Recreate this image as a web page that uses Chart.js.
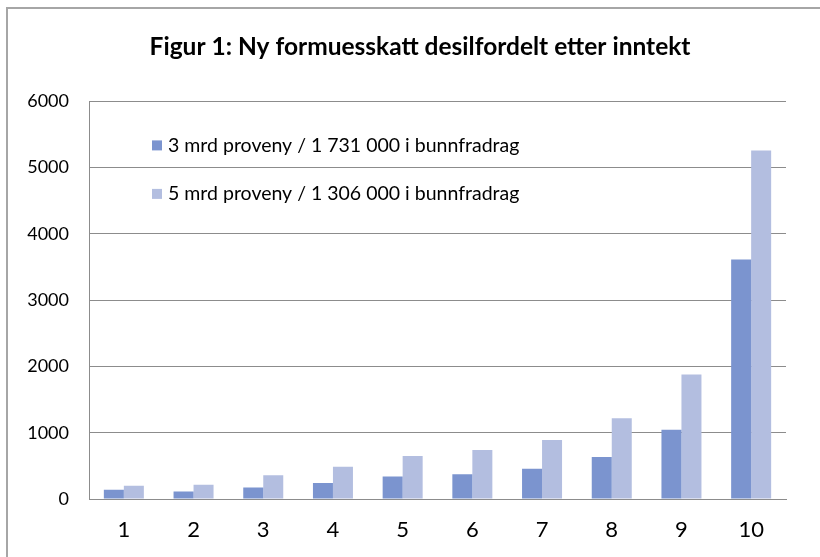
<!DOCTYPE html>
<html>
<head>
<meta charset="utf-8">
<script src="https://cdn.jsdelivr.net/npm/chart.js@4.4.1/dist/chart.umd.min.js"></script>
<style>
  html, body { margin: 0; padding: 0; background: #fff; }
  #wrap { width: 820px; height: 557px; position: relative; }
</style>
</head>
<body>
<div id="wrap"><canvas id="graph" width="820" height="557"></canvas></div>
<script>
var deciles = ["1", "2", "3", "4", "5", "6", "7", "8", "9", "10"];
var seriesNames = [
  "3 mrd proveny / 1 731 000 i bunnfradrag",
  "5 mrd proveny / 1 306 000 i bunnfradrag"
];
var proveny3mrd = [140, 115, 175, 240, 340, 375, 455, 635, 1045, 3615];
var proveny5mrd = [200, 215, 360, 485, 650, 740, 890, 1220, 1880, 5260];
var yTicks = [0, 1000, 2000, 3000, 4000, 5000, 6000];

var FONT = 'Lato, "Liberation Sans", sans-serif';
Chart.defaults.font.family = FONT;
Chart.defaults.color = "#000";

// frame round the whole chart, like the spreadsheet object border
var framePlugin = {
  id: "frame",
  beforeDraw: function(chart) {
    var ctx = chart.ctx;
    ctx.save();
    ctx.fillStyle = "#fff";
    ctx.fillRect(0, 0, chart.width, chart.height);
    ctx.strokeStyle = "#a6a6a6";
    ctx.lineWidth = 2;
    ctx.beginPath();
    ctx.moveTo(7, chart.height + 5);
    ctx.lineTo(7, 8);
    ctx.lineTo(chart.width + 5, 8);
    ctx.stroke();
    ctx.restore();
  }
};

// legend sits inside the plot, top left, one item per line
var insideLegend = {
  id: "insideLegend",
  afterDatasetsDraw: function(chart) {
    var ctx = chart.ctx;
    var area = chart.chartArea;
    ctx.save();
    ctx.font = "19.5px " + FONT;
    ctx.textBaseline = "middle";
    ctx.textAlign = "left";
    chart.data.datasets.forEach(function(ds, i) {
      var cy = area.top + 44 + i * 48.5;
      var x = area.left + 63;
      ctx.fillStyle = ds.backgroundColor;
      ctx.fillRect(x, cy - 5, 10, 10);
      ctx.fillStyle = "#000";
      ctx.fillText(ds.label, x + 16, cy);
    });
    ctx.restore();
  }
};

var ctx = document.getElementById("graph").getContext("2d");
var chart = new Chart(ctx, {
  type: "bar",
  data: {
    labels: deciles,
    datasets: [{
      label: seriesNames[0],
      data: proveny3mrd,
      backgroundColor: "#7b94cf",
      borderWidth: 0
    }, {
      label: seriesNames[1],
      data: proveny5mrd,
      backgroundColor: "#b3bee0",
      borderWidth: 0
    }]
  },
  options: {
    responsive: false,
    animation: false,
    layout: { padding: { left: 20, right: 0, top: 0, bottom: 0 } },
    datasets: {
      bar: { categoryPercentage: 0.574, barPercentage: 1.0 }
    },
    plugins: {
      legend: { display: false },
      tooltip: { enabled: false },
      title: {
        display: true,
        text: "Figur 1: Ny formuesskatt desilfordelt etter inntekt",
        font: { size: 24.5, weight: "bold", family: FONT },
        color: "#000",
        padding: { top: 32, bottom: 40 }
      }
    },
    scales: {
      x: {
        grid: { display: false, drawTicks: false },
        border: { display: true, color: "#8c8c8c", width: 1 },
        ticks: { font: { size: 22 }, padding: 18 },
        afterFit: function(scale) { scale.height = 58; }
      },
      y: {
        min: 0,
        max: 6000,
        afterBuildTicks: function(scale) {
          scale.ticks = yTicks.map(function(v) { return { value: v }; });
        },
        grid: { color: "#8c8c8c", lineWidth: 1, drawTicks: false },
        border: { display: true, color: "#8c8c8c", width: 1 },
        ticks: {
          font: { size: 18 },
          padding: 20,
          callback: function(value) { return String(value); }
        },
        afterFit: function(scale) { scale.width = 69; }
      },
      // empty right margin so the title centres like the original
      spacer: {
        position: "right",
        min: 0,
        max: 1,
        grid: { display: false, drawTicks: false },
        border: { display: false },
        ticks: { display: false },
        afterFit: function(scale) { scale.width = 34; }
      }
    }
  },
  plugins: [framePlugin, insideLegend]
});
</script>
</body>
</html>
